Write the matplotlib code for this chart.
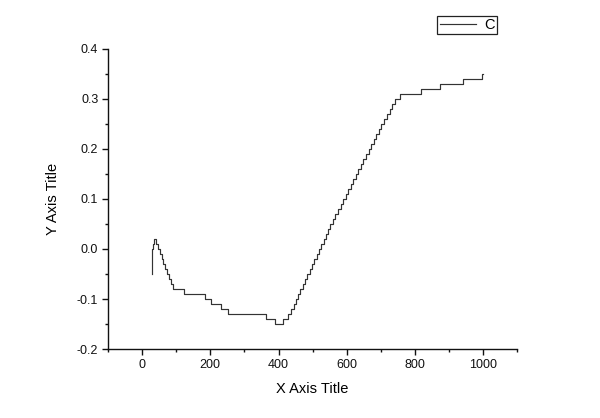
import matplotlib
matplotlib.use("Agg")
import matplotlib.pyplot as plt
from matplotlib.ticker import MultipleLocator

plt.rcParams['font.family'] = ['Liberation Sans', 'DejaVu Sans']

# step points of curve C (x where the level starts, level)
x_c = [29, 30, 33, 34, 42, 47, 52, 57, 62, 67, 73, 79, 85, 91,
       122, 183, 202, 230, 251, 364, 391,
       413, 428, 437, 444, 451, 458, 464, 471, 478, 485, 491, 498,
       505, 512, 518, 525, 532, 539, 545, 552,
       559, 567, 574, 582, 589, 597, 604, 612, 619, 627, 634, 642,
       649, 657, 664,
       672, 679, 687, 695, 702, 710, 718, 726, 733, 741, 757,
       819, 875, 941, 996, 1000]
y_c = [-0.05, 0.00, 0.01, 0.02, 0.01, 0.00, -0.01, -0.02, -0.03, -0.04,
       -0.05, -0.06, -0.07, -0.08,
       -0.09, -0.10, -0.11, -0.12, -0.13, -0.14, -0.15,
       -0.14, -0.13, -0.12, -0.11, -0.10, -0.09, -0.08, -0.07, -0.06,
       -0.05, -0.04, -0.03, -0.02, -0.01, 0.00, 0.01, 0.02, 0.03, 0.04,
       0.05,
       0.06, 0.07, 0.08, 0.09, 0.10, 0.11, 0.12, 0.13, 0.14, 0.15, 0.16,
       0.17, 0.18, 0.19, 0.20,
       0.21, 0.22, 0.23, 0.24, 0.25, 0.26, 0.27, 0.28, 0.29, 0.30, 0.31,
       0.32, 0.33, 0.34, 0.35, 0.35]

fig = plt.figure(figsize=(6, 4.18), dpi=100)
ax = fig.add_axes([0.180, 0.165, 0.682, 0.718])

line, = ax.plot(x_c, y_c, drawstyle='steps-post', color='#333333',
                lw=0.85, label='C')

ax.set_xlim(-100, 1100)
ax.set_ylim(-0.2, 0.4)
ax.xaxis.set_major_locator(MultipleLocator(200))
ax.xaxis.set_minor_locator(MultipleLocator(100))
ax.yaxis.set_minor_locator(MultipleLocator(0.05))
ax.set_yticks([-0.2, -0.1, 0.0, 0.1, 0.2, 0.3, 0.4])
ax.set_yticklabels(['-0.2', '-0.1', '0.0', '0.1', '0.2', '0.3', '0.4'])

for side in ['top', 'right']:
    ax.spines[side].set_visible(False)
for side in ['left', 'bottom']:
    ax.spines[side].set_linewidth(1.0)
    ax.spines[side].set_color('#111111')

ax.tick_params(which='major', direction='out', length=4.5, width=1,
               labelsize=9, pad=2.5, colors='#111111')
ax.tick_params(which='minor', direction='out', length=2.5, width=1,
               colors='#111111')

ax.set_xlabel('X Axis Title', fontsize=10.5, labelpad=8)
ax.set_ylabel('Y Axis Title', fontsize=10.5, labelpad=12)

leg = fig.legend(handles=[line], loc='upper right',
                 bbox_to_anchor=(0.829, 0.962), fontsize=10.5,
                 fancybox=False, framealpha=1, edgecolor='#222222',
                 borderpad=0.15, handlelength=2.5, handletextpad=0.6,
                 borderaxespad=0)
leg.get_frame().set_linewidth(0.9)

fig.savefig('out.png', dpi=100)
